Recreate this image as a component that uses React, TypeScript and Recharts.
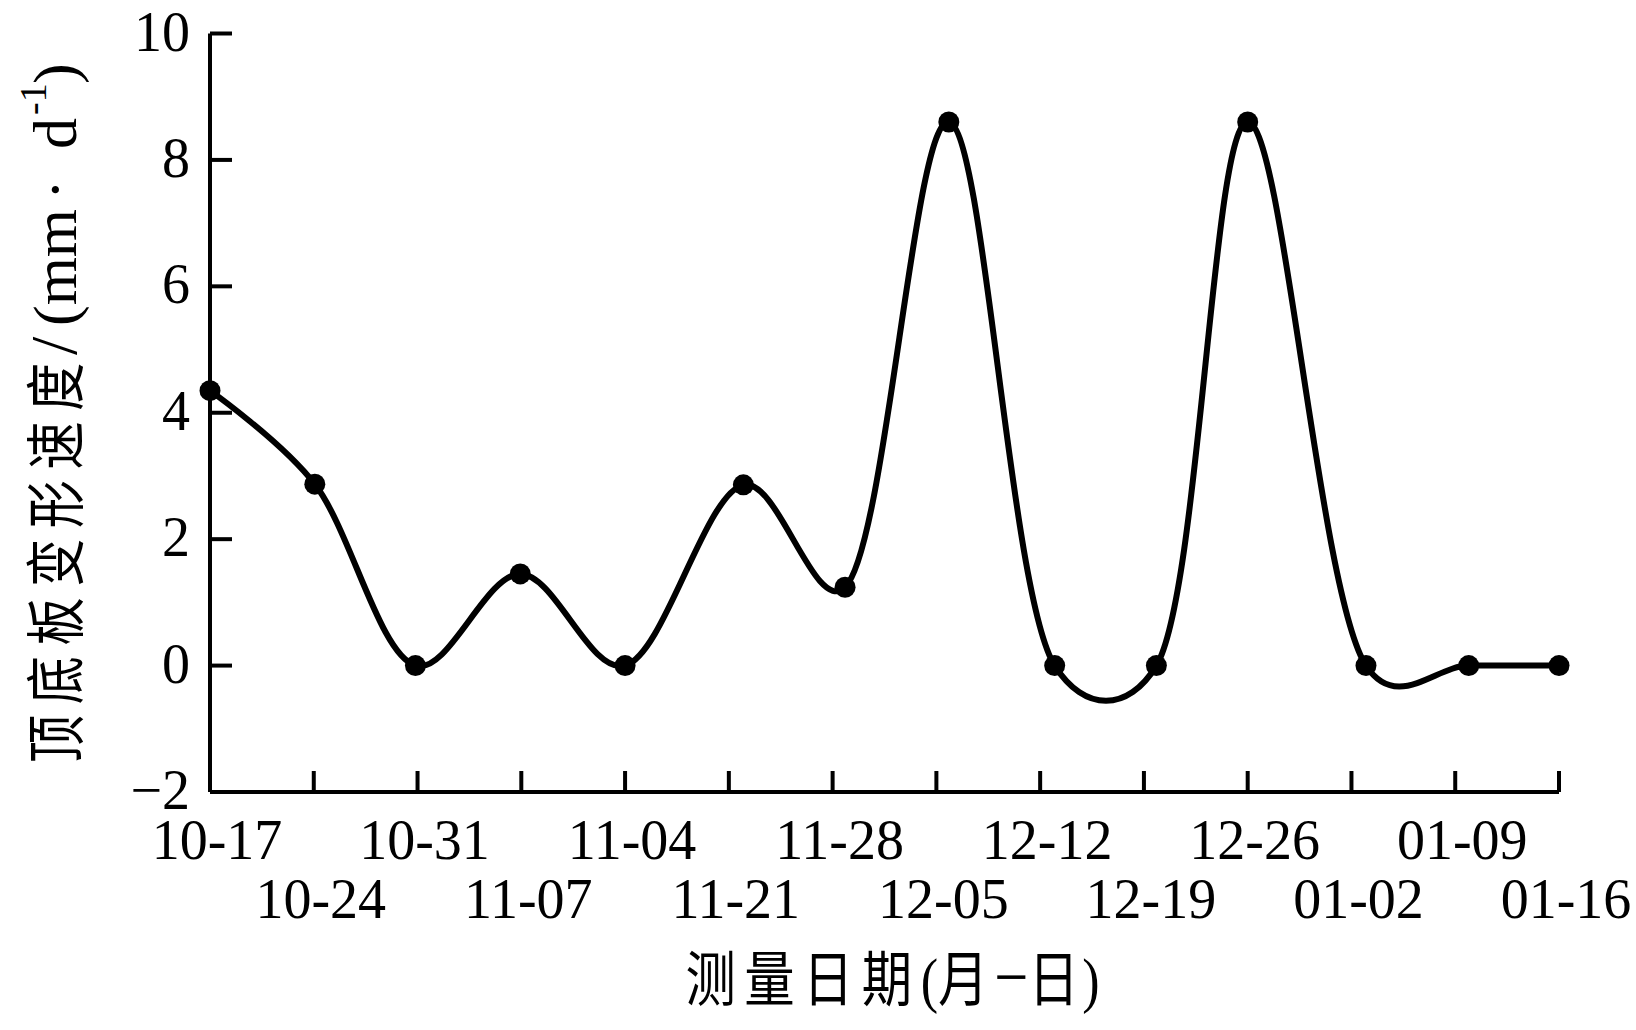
import React from "react";
import { LineChart, Line, XAxis, YAxis, Label } from "recharts";

// measurement dates (tick labels, in the order printed under the axis)
const dateLabels = [
  "10-17", "10-24", "10-31", "11-07", "11-04", "11-21", "11-28",
  "12-05", "12-12", "12-19", "12-26", "01-02", "01-09", "01-16",
];
const dateTicks = [0, 1, 2, 3, 4, 5, 6, 7, 8, 9, 10, 11, 12, 13];

// where each measured point sits along the date axis (in tick units)
const pointPos = [0, 1.01, 1.98, 2.99, 4.0, 5.14, 6.12, 7.12, 8.14, 9.12, 10.0, 11.14, 12.13, 13.0];
// roof-floor convergence rate, mm/d
const rate = [4.35, 2.87, 0, 1.45, 0, 2.86, 1.24, 8.6, 0, 0, 8.6, 0, 0, 0];

const rateTicks = [-2, 0, 2, 4, 6, 8, 10];

const data = pointPos.map((x, i) => ({ x, rate: rate[i] }));

const FONT = '"Liberation Serif", "Times New Roman", "Noto Sans CJK SC", serif';
const CJK = '"Noto Sans CJK SC", "Liberation Serif", serif';

// Catmull-Rom spline (same maths as d3's curveCatmullRom.alpha)
const catmullRom = (alpha: number) => (context: any) => {
  let pts: number[][] = [];
  const dist = (a: number[], b: number[]) => Math.hypot(b[0] - a[0], b[1] - a[1]);
  return {
    areaStart() {},
    areaEnd() {},
    lineStart() {
      pts = [];
    },
    point(x: number, y: number) {
      pts.push([+x, +y]);
    },
    lineEnd() {
      const n = pts.length;
      if (!n) return;
      context.moveTo(pts[0][0], pts[0][1]);
      for (let i = 0; i < n - 1; i++) {
        const p1 = pts[i];
        const p2 = pts[i + 1];
        const p0 = i > 0 ? pts[i - 1] : null;
        const p3 = i + 2 < n ? pts[i + 2] : null;
        const d12 = dist(p1, p2);
        const l12a = Math.pow(d12, alpha);
        const l12a2 = Math.pow(d12, 2 * alpha);
        let c1 = [p1[0], p1[1]];
        let c2 = [p2[0], p2[1]];
        if (p0) {
          const d01 = dist(p0, p1);
          const l01a = Math.pow(d01, alpha);
          const l01a2 = Math.pow(d01, 2 * alpha);
          if (l01a > 1e-12) {
            const a = 2 * l01a2 + 3 * l01a * l12a + l12a2;
            const m = 3 * l01a * (l01a + l12a);
            c1 = [0, 1].map((k) => (p1[k] * a - p0[k] * l12a2 + p2[k] * l01a2) / m);
          }
        }
        if (p3) {
          const d23 = dist(p2, p3);
          const l23a = Math.pow(d23, alpha);
          const l23a2 = Math.pow(d23, 2 * alpha);
          if (l23a > 1e-12) {
            const b = 2 * l23a2 + 3 * l23a * l12a + l12a2;
            const m = 3 * l23a * (l23a + l12a);
            c2 = [0, 1].map((k) => (p2[k] * b + p1[k] * l23a2 - p3[k] * l12a2) / m);
          }
        }
        context.bezierCurveTo(c1[0], c1[1], c2[0], c2[1], p2[0], p2[1]);
      }
    },
  };
};

const XTick = ({ x, y, payload }: any) => {
  const i = Math.round(payload.value);
  const row = i % 2 === 0 ? 67 : 126;
  return (
    <text x={x + 7} y={y + row} textAnchor="middle" fontFamily={FONT} fontSize={56} fill="#000">
      {dateLabels[i]}
    </text>
  );
};

const YTick = ({ x, y, payload }: any) => (
  <text x={x} y={y + 17} textAnchor="end" fontFamily={FONT} fontSize={56} fill="#000">
    {payload.value < 0 ? `\u2212${Math.abs(payload.value)}` : payload.value}
  </text>
);

// x title, glyphs a little condensed like the song-style original
const XTitle = ({ viewBox }: any) => (
  <text
    transform={`translate(${viewBox.x + viewBox.width / 2 + 8} ${viewBox.y + 209}) scale(0.84 1)`}
    x={0}
    y={0}
    textAnchor="middle"
    fontFamily={FONT}
    fill="#000"
  >
    <tspan fontFamily={CJK} fontSize={60} letterSpacing={10}>测量日期</tspan>
    <tspan fontSize={62}>(</tspan>
    <tspan fontFamily={CJK} fontSize={60} letterSpacing={7}>月</tspan>
    <tspan fontSize={72}>{"\u2212"}</tspan>
    <tspan fontFamily={CJK} fontSize={60} letterSpacing={4}>日</tspan>
    <tspan fontSize={62}>)</tspan>
  </text>
);

// y title, written along the axis (bottom to top)
const YTitle = () => (
  <g transform="translate(76 763) rotate(-90)" fill="#000">
    <text x={0} y={2} transform="scale(0.8 1)" fontFamily={CJK} fontSize={60} letterSpacing={13.4}>
      顶底板变形速度
    </text>
    <text x={408} y={0} fontFamily={FONT} fontSize={66}>/</text>
    <text x={437} y={0} fontFamily={FONT} fontSize={62}>(mm</text>
    <text x={563} y={0} fontFamily={FONT} fontSize={62}>·</text>
    <text x={614} y={0} fontFamily={FONT} fontSize={62}>d</text>
    <text x={648} y={-30} fontFamily={FONT} fontSize={38}>-1</text>
    <text x={679} y={0} fontFamily={FONT} fontSize={62}>)</text>
  </g>
);

export default function App() {
  return (
    <div style={{ position: "absolute", left: 0, top: 0, background: "#fff" }}>
      <LineChart
        width={1636}
        height={1030}
        data={data}
        margin={{ top: 33.5, right: 77, left: 0, bottom: 0 }}
      >
        <XAxis
          dataKey="x"
          type="number"
          domain={[0, 13]}
          ticks={dateTicks}
          interval={0}
          height={238}
          stroke="#000"
          strokeWidth={4}
          tickSize={-21}
          tickMargin={21}
          tickLine={{ stroke: "#000", strokeWidth: 4 }}
          tick={<XTick />}
        >
          <Label content={<XTitle />} />
        </XAxis>
        <YAxis
          type="number"
          domain={[-2, 10]}
          ticks={rateTicks}
          interval={0}
          width={210}
          stroke="#000"
          strokeWidth={4}
          tickSize={-22}
          tickMargin={42}
          tickLine={{ stroke: "#000", strokeWidth: 4 }}
          tick={<YTick />}
        >
          <Label content={<YTitle />} />
        </YAxis>
        <Line
          type={catmullRom(0.25) as any}
          dataKey="rate"
          stroke="#000"
          strokeWidth={6}
          dot={{ r: 10.5, fill: "#000", stroke: "#000", strokeWidth: 0 }}
          activeDot={false}
          isAnimationActive={false}
        />
      </LineChart>
    </div>
  );
}
